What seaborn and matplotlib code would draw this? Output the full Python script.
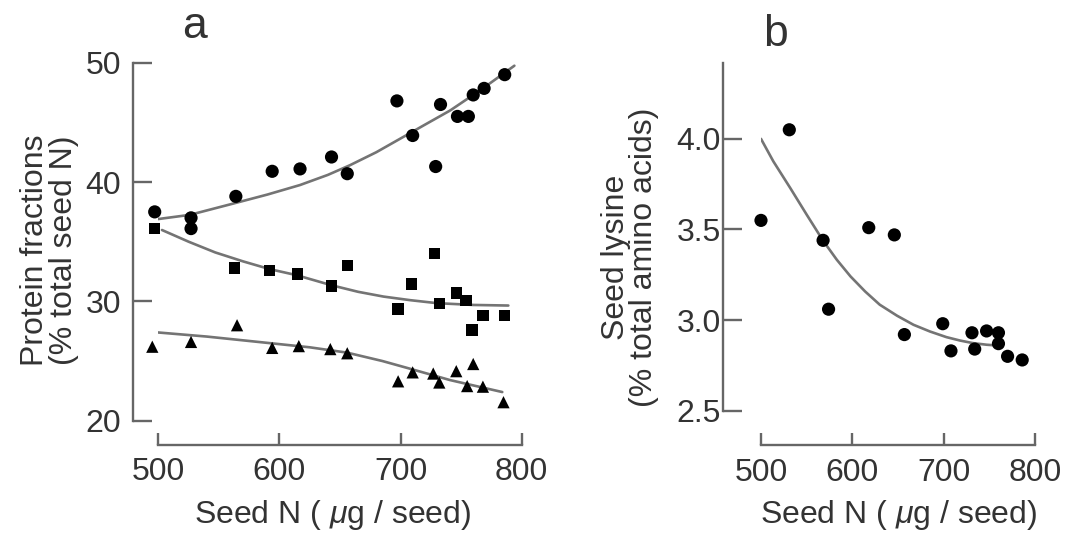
import numpy as np
import pandas as pd
import matplotlib
matplotlib.use('Agg')
import matplotlib.pyplot as plt
import seaborn as sns

# panel a: protein fractions vs seed N
circle_x = [497, 527, 527, 564, 594, 617, 643, 656, 697, 710, 729, 733, 747, 756, 760, 769, 786]
circle_y = [37.5, 37.0, 36.1, 38.8, 40.9, 41.1, 42.1, 40.7, 46.8, 43.9, 41.3, 46.5, 45.5, 45.5, 47.3, 47.85, 49.0]
square_x = [497, 563, 592, 615, 643, 656, 698, 709, 728, 732, 746, 754, 759, 768, 786]
square_y = [36.1, 32.8, 32.6, 32.3, 31.3, 33.0, 29.35, 31.45, 34.0, 29.8, 30.7, 30.05, 27.6, 28.8, 28.8]
triangle_x = [495, 527, 565, 594, 616, 642, 656, 698, 710, 727, 732, 746, 760, 755, 768, 785]
triangle_y = [26.2, 26.6, 28.0, 26.1, 26.25, 26.0, 25.65, 23.3, 24.05, 23.95, 23.2, 24.15, 24.75, 22.9, 22.85, 21.55]

# fitted curves as drawn in the figure
circle_fit_x = [500, 526, 562, 590, 617, 640, 658, 680, 700, 720, 741, 768, 794]
circle_fit_y = [36.9, 37.25, 38.2, 38.95, 39.75, 40.6, 41.4, 42.5, 43.65, 44.8, 46.0, 47.85, 49.75]
square_fit_x = [503, 525, 547, 570, 592, 614, 643, 665, 686, 708, 730, 760, 789]
square_fit_y = [35.98, 35.0, 34.1, 33.35, 32.7, 32.2, 31.35, 30.8, 30.4, 30.1, 29.85, 29.7, 29.65]
triangle_fit_x = [499, 540, 592, 625, 656, 685, 708, 741, 784]
triangle_fit_y = [27.4, 27.05, 26.5, 26.15, 25.7, 25.0, 24.35, 23.4, 22.4]

# panel b: seed lysine vs seed N
lys_x = [500, 531, 568, 574, 618, 646, 657, 699, 708, 731, 734, 747, 760, 760, 770, 786]
lys_y = [3.55, 4.05, 3.44, 3.06, 3.51, 3.47, 2.92, 2.98, 2.83, 2.93, 2.84, 2.94, 2.93, 2.87, 2.80, 2.78]
lys_fit_x = [500, 513.5, 532, 550, 568, 583, 598, 614, 630, 649, 667, 685, 703, 718, 732, 747, 758]
lys_fit_y = [4.0, 3.876, 3.729, 3.582, 3.438, 3.333, 3.241, 3.158, 3.085, 3.024, 2.974,
             2.937, 2.906, 2.887, 2.873, 2.864, 2.86]

sns.set_theme(style='ticks')
plt.rcParams['font.family'] = ['Liberation Sans', 'DejaVu Sans']
plt.rcParams['mathtext.fontset'] = 'custom'
plt.rcParams['mathtext.it'] = 'Liberation Sans:italic'

text_col = '#333333'
axis_col = '#666666'
line_col = '#747474'
fs = 23

fig = plt.figure(figsize=(10.67, 5.37), dpi=100)
ax_a = fig.add_axes([0.1484, 0.2166, 0.3405, 0.6666])
ax_b = fig.add_axes([0.7132, 0.2352, 0.2568, 0.6480])

# panel a
for xs, ys, m, s in [(circle_x, circle_y, 'o', 90),
                     (square_x, square_y, 's', 68),
                     (triangle_x, triangle_y, '^', 78)]:
    sns.scatterplot(x=xs, y=ys, marker=m, s=s, color='black', edgecolor='none',
                    ax=ax_a, clip_on=False, zorder=3)
for xs, ys in [(circle_fit_x, circle_fit_y), (square_fit_x, square_fit_y),
               (triangle_fit_x, triangle_fit_y)]:
    sns.lineplot(x=xs, y=ys, sort=False, estimator=None, color=line_col, lw=1.9, ax=ax_a)

ax_a.set_xlim(500, 800)
ax_a.set_ylim(20, 50)
ax_a.set_xticks([500, 600, 700, 800])
ax_a.set_yticks([20, 30, 40, 50])

# panel b
sns.scatterplot(x=lys_x, y=lys_y, marker='o', s=90, color='black', edgecolor='none',
                ax=ax_b, clip_on=False, zorder=3)
sns.lineplot(x=lys_fit_x, y=lys_fit_y, sort=False, estimator=None, color=line_col, lw=1.9, ax=ax_b)
ax_b.set_xlim(500, 800)
ax_b.set_ylim(2.5, 4.42)
ax_b.set_xticks([500, 600, 700, 800])
ax_b.set_yticks([2.5, 3.0, 3.5, 4.0])
ax_b.set_yticklabels(['2.5', '3.0', '3.5', '4.0'])

for ax, loff, boff, ypad in [(ax_a, 18, 17.5, 9), (ax_b, 27, 24.7, 2)]:
    sns.despine(ax=ax)
    ax.spines['left'].set_position(('outward', loff))
    ax.spines['bottom'].set_position(('outward', boff))
    for sp in ['left', 'bottom']:
        ax.spines[sp].set_color(axis_col)
        ax.spines[sp].set_linewidth(1.7)
    ax.spines['bottom'].set_bounds(500, 800)
    ax.tick_params(axis='y', direction='in', length=14, width=1.7, color=axis_col,
                   labelsize=fs, labelcolor=text_col, pad=ypad)
    ax.tick_params(axis='x', direction='in', length=9, width=1.7, color=axis_col,
                   labelsize=fs, labelcolor=text_col, pad=9)
    ax.set_facecolor('none')

ax_a.spines['left'].set_bounds(20, 50)
ax_b.spines['left'].set_bounds(2.5, 4.42)

xlab = 'Seed N ( $\\mathit{\\mu}$g / seed)'
ax_a.set_xlabel(xlab, fontsize=fs, color=text_col)
ax_b.set_xlabel(xlab, fontsize=fs, color=text_col)
ax_a.set_ylabel('Protein fractions\n(% total seed N)', fontsize=fs, color=text_col, linespacing=0.95)
ax_b.set_ylabel('Seed lysine\n(% total amino acids)', fontsize=fs, color=text_col, linespacing=0.95)
ax_a.xaxis.set_label_coords(0.312, 0.041, transform=fig.transFigure)
ax_b.xaxis.set_label_coords(0.8426, 0.041, transform=fig.transFigure)
ax_a.yaxis.set_label_coords(0.046, 0.5345, transform=fig.transFigure)
ax_b.yaxis.set_label_coords(0.5904, 0.5214, transform=fig.transFigure)
for ax in (ax_a, ax_b):
    ax.xaxis.label.set_va('center')
    ax.yaxis.label.set_va('center')

fig.text(195 / 1067, 1 - 27 / 537, 'a', fontsize=32, color=text_col, ha='center', va='center')
fig.text(775 / 1067, 1 - 35 / 537, 'b', fontsize=32, color=text_col, ha='center', va='center')

fig.savefig('out.png', dpi=100, facecolor='white')
